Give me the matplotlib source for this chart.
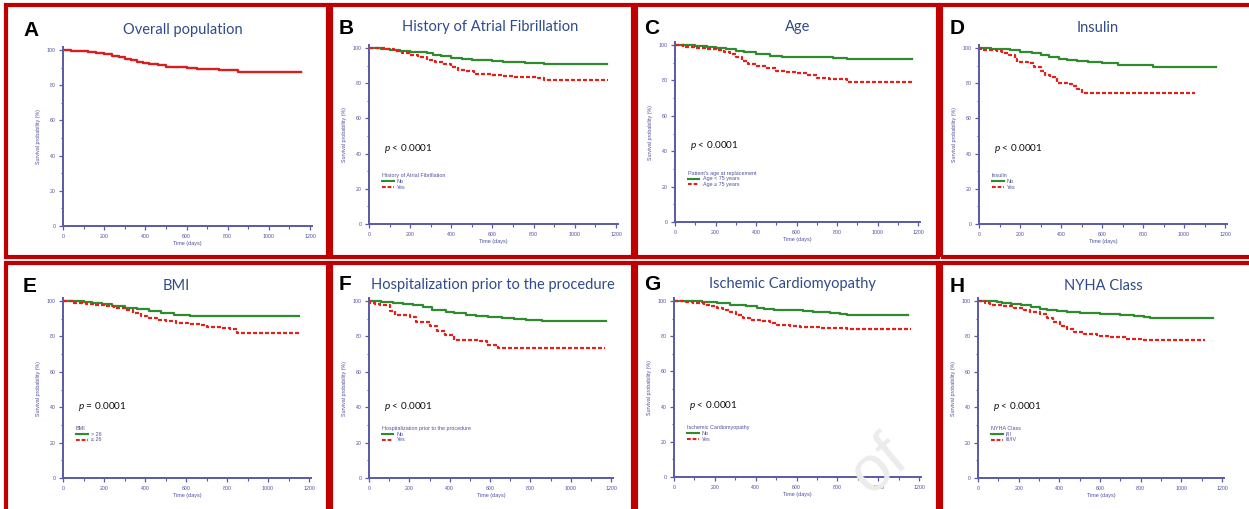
import matplotlib
matplotlib.use("Agg")
import matplotlib.pyplot as plt
from matplotlib.patches import Rectangle
from matplotlib.lines import Line2D

plt.rcParams['mathtext.fontset'] = 'custom'
plt.rcParams['mathtext.it'] = 'Lato:italic'
plt.rcParams['mathtext.rm'] = 'Lato'

# ---------------- data ----------------
A_t = [0, 40, 80, 120, 160, 200, 240, 270, 300, 330, 360, 390, 420, 460, 500, 550, 600, 650, 700, 760, 820, 850, 1155]
A_s = [100, 99.6, 99.2, 98.8, 98.2, 97.5, 96.7, 96, 95, 94.2, 93.3, 92.4, 91.8, 91.2, 90.5, 90.2, 89.8, 89.3, 89, 88.7, 88.4, 87.5, 87.5]

B_no_t = [0, 60, 100, 150, 200, 250, 280, 310, 350, 400, 450, 500, 550, 600, 650, 700, 760, 850, 1155]
B_no_s = [100, 99.5, 99, 98.3, 98, 97.6, 97, 96, 95.3, 94.3, 93.7, 93.3, 93, 92.6, 92.2, 91.9, 91.4, 90.7, 90.7]
B_yes_t = [0, 80, 120, 160, 200, 240, 280, 320, 360, 400, 430, 470, 510, 560, 600, 650, 700, 760, 820, 850, 1160]
B_yes_s = [100, 99.3, 98.5, 97.3, 96, 94.7, 93.3, 92, 90.8, 89.2, 87.5, 87, 85.5, 85.2, 84.8, 84.2, 83.8, 83.5, 83, 82, 82]

C_no_t = [0, 100, 160, 200, 250, 300, 340, 400, 470, 530, 600, 780, 850, 1170]
C_no_s = [100, 99.5, 99, 98.3, 97.5, 96.5, 96, 95, 94, 93.5, 93.2, 92.7, 92, 92]
C_yes_t = [0, 40, 100, 150, 200, 240, 270, 300, 330, 360, 400, 450, 500, 550, 600, 650, 700, 760, 850, 1175]
C_yes_s = [100, 99, 98.5, 97.8, 97, 96, 95, 93, 91, 89.5, 88, 86.8, 85.5, 85, 84, 83, 81.5, 81, 79.3, 79.3]

D_no_t = [0, 60, 110, 150, 200, 260, 300, 340, 390, 430, 480, 530, 600, 680, 750, 850, 1155]
D_no_s = [100, 99.6, 99.2, 98.8, 98, 97, 96, 95, 94, 93.2, 92.5, 92, 91.2, 90.6, 90.2, 89, 89]
D_yes_t = [0, 10, 90, 110, 145, 175, 185, 240, 270, 300, 320, 345, 380, 430, 455, 480, 500, 1055]
D_yes_s = [100, 98.8, 98.2, 97.2, 96.3, 94, 92.2, 91.3, 89.3, 87, 84.8, 83.7, 80.2, 79.6, 78.3, 76.5, 74.6, 74.6]

E_no_t = [0, 100, 140, 190, 240, 300, 360, 420, 480, 540, 620, 1153]
E_no_s = [100, 99.5, 99, 98.2, 97.3, 96.2, 95.2, 94.2, 93, 92.3, 91.6, 91.6]
E_yes_t = [0, 50, 110, 150, 200, 250, 300, 340, 380, 410, 460, 500, 550, 610, 670, 700, 770, 815, 850, 1156]
E_yes_s = [100, 99, 98.5, 98, 97, 96, 94.8, 93, 91.8, 90.5, 89.5, 88.5, 87.8, 87, 86.5, 85.5, 85, 84, 82, 82]

F_no_t = [0, 60, 120, 170, 220, 270, 310, 380, 420, 480, 530, 590, 660, 720, 780, 860, 1175]
F_no_s = [100, 99.5, 99, 98.5, 97.5, 96.5, 95, 94, 93, 92, 91.5, 91, 90.5, 90, 89.5, 88.5, 88.5]
F_yes_t = [0, 5, 30, 55, 105, 130, 205, 235, 300, 335, 375, 420, 550, 585, 640, 1171]
F_yes_s = [100, 99, 98.5, 97.5, 94.5, 92.3, 90.8, 87.9, 86, 83.2, 80.9, 78.1, 77.2, 75.3, 73.4, 73.4]

G_no_t = [0, 135, 160, 210, 275, 355, 405, 440, 490, 630, 680, 730, 765, 815, 845, 1148]
G_no_s = [100, 99.6, 99.3, 98.8, 98, 97, 96.2, 95.5, 95, 94.5, 94, 93.5, 93, 92.5, 91.8, 91.8]
G_yes_t = [0, 60, 95, 145, 175, 210, 240, 275, 305, 340, 370, 420, 470, 505, 570, 615, 715, 845, 1161]
G_yes_s = [100, 99.5, 99, 98, 97, 96, 95, 94, 92, 90.5, 89, 88.5, 87.5, 86.5, 86, 85, 84.5, 84, 84]

H_no_t = [0, 95, 120, 160, 210, 260, 305, 340, 390, 440, 500, 600, 700, 765, 815, 845, 1157]
H_no_s = [100, 99.5, 99, 98.3, 97.5, 96.7, 95.7, 95, 94.4, 93.8, 93.2, 92.5, 92, 91.5, 91, 90.3, 90.3]
H_yes_t = [0, 35, 60, 125, 175, 225, 255, 305, 340, 370, 405, 440, 470, 520, 585, 650, 730, 800, 1116]
H_yes_s = [100, 99, 98, 97, 96, 95, 94, 92.5, 90.5, 88, 86, 84, 82.5, 81.5, 80.5, 79.5, 78.5, 78, 78]

letters = ["A", "B", "C", "D", "E", "F", "G", "H"]
titles = ["Overall population", "History of Atrial Fibrillation", "Age", "Insulin",
          "BMI", "Hospitalization prior to the procedure", "Ischemic Cardiomyopathy", "NYHA Class"]
legend_titles = [None, "History of Atrial Fibrillation", "Patient's age at replacement", "Insulin",
                 "BMI", "Hospitalization prior to the procedure", "Ischemic Cardiomyopathy", "NYHA Class"]
group_labels = [None, ["No", "Yes"], ["Age < 75 years", "Age \u2265 75 years"], ["No", "Yes"],
                ["> 26", "\u2264 26"], ["No", "Yes"], ["No", "Yes"], ["I/II", "III/IV"]]
p_texts = [None, "< 0.0001", "< 0.0001", "< 0.0001", "= 0.0001", "< 0.0001", "< 0.0001", "< 0.0001"]
xticks = [0, 200, 400, 600, 800, 1000, 1200]
yticks = [0, 20, 40, 60, 80, 100]

series = [
    [(A_t, A_s)],
    [(B_no_t, B_no_s), (B_yes_t, B_yes_s)],
    [(C_no_t, C_no_s), (C_yes_t, C_yes_s)],
    [(D_no_t, D_no_s), (D_yes_t, D_yes_s)],
    [(E_no_t, E_no_s), (E_yes_t, E_yes_s)],
    [(F_no_t, F_no_s), (F_yes_t, F_yes_s)],
    [(G_no_t, G_no_s), (G_yes_t, G_yes_s)],
    [(H_no_t, H_no_s), (H_yes_t, H_yes_s)],
]

# ---------------- layout (pixels) ----------------
W, H = 1249, 509
DPI = 100
fig = plt.figure(figsize=(W / DPI, H / DPI), dpi=DPI)
fig.patch.set_facecolor("white")

# x-pixel of day 0, x-pixel of day 1200, y-pixel of 0 %, y-pixel of 100 %
axes_px = [
    (63, 310, 226, 50), (369, 616, 224, 48), (675, 918, 222, 45), (979, 1225, 224, 48),
    (63, 309, 478, 301), (369, 611, 478, 301), (674, 919, 477, 301), (978, 1222, 478, 301),
]
panel_px = [  # left, top, right, bottom
    (6, 5, 328, 257), (331, 5, 633, 257), (636, 5, 938, 257), (941, 5, 1253, 257),
    (6, 263, 328, 515), (331, 263, 633, 515), (636, 263, 938, 515), (941, 263, 1253, 515),
]
title_px = [(183, 30), (490, 27), (798, 27), (1098, 28), (176, 286), (493, 285), (792, 284), (1103, 286)]
letter_px = [(23, 30), (339, 28), (644, 28), (950, 29), (23, 286), (339, 285), (644, 284), (950, 286)]

XMAX, YMAX = 1212, 101.5
AXC = "#5A5AA6"
TXC = "#5050A0"
TITLE_C = "#2F4B8A"
RED = "#E3201B"
GREEN = "#2E8B2E"
BORDER = "#C00000"

# faint watermark fragment visible in the reference
fig.text(878 / W, 1 - 466 / H, "of", fontsize=46, color="#ECECEC",
         rotation=40, ha="center", va="center", rotation_mode="anchor",
         family="Liberation Sans", zorder=0)

for i in range(8):
    l, t, r, b = panel_px[i]
    fig.patches.append(Rectangle((l / W, 1 - b / H), (r - l) / W, (b - t) / H,
                                 transform=fig.transFigure, fill=False,
                                 edgecolor=BORDER, linewidth=3.0, zorder=5))
    x0, x1200, y0, y100 = axes_px[i]
    wpx = (x1200 - x0) * XMAX / 1200
    hpx = (y0 - y100) * YMAX / 100
    ax = fig.add_axes([x0 / W, 1 - y0 / H, wpx / W, hpx / H])
    ax.patch.set_alpha(0)
    ax.set_xlim(0, XMAX)
    ax.set_ylim(0, YMAX)
    for s in ["top", "right"]:
        ax.spines[s].set_visible(False)
    for s in ["left", "bottom"]:
        ax.spines[s].set_color(AXC)
        ax.spines[s].set_linewidth(1.4)
    ax.set_xticks(xticks)
    ax.set_yticks(yticks)
    ax.set_xticks(range(100, 1200, 200), minor=True)
    ax.set_yticks(range(10, 100, 20), minor=True)
    ax.tick_params(which="major", length=3, width=0.9, color=AXC, labelsize=3.8,
                   labelcolor=TXC, pad=2.5)
    ax.tick_params(which="minor", length=1.8, width=0.8, color=AXC)
    for lab in ax.get_xticklabels() + ax.get_yticklabels():
        lab.set_family("Liberation Sans")
    ax.set_xlabel("Time (days)", fontsize=4.0, color=TXC, labelpad=2, family="Liberation Sans")
    ax.set_ylabel("Survival probability (%)", fontsize=3.8, color=TXC, labelpad=4,
                  family="Liberation Sans")

    ser = series[i]
    if len(ser) == 1:
        ax.step(ser[0][0], ser[0][1], where="post", color="#D81E1E", lw=1.7)
    else:
        ax.step(ser[0][0], ser[0][1], where="post", color=GREEN, lw=1.6)
        ax.step(ser[1][0], ser[1][1], where="post", color=RED, lw=1.6,
                linestyle=(0, (1.8, 0.9)))
        ya = 43 if i < 4 else 40.5
        ax.text(72, ya, r"$\it{p}$ " + p_texts[i], fontsize=7.2, family="Lato",
                color="#111111", va="center", ha="left")
        yl = 29 if i < 4 else 29.5
        hl1 = Line2D([], [], color=GREEN, lw=1.5)
        hl2 = Line2D([], [], color=RED, lw=1.5, linestyle=(0, (1.8, 0.9)))
        leg = ax.legend([hl1, hl2], group_labels[i], title=legend_titles[i],
                        loc="upper left", bbox_to_anchor=(62, yl),
                        bbox_transform=ax.transData, frameon=False,
                        fontsize=3.9, title_fontsize=3.9, labelcolor=TXC,
                        handlelength=2.2, handletextpad=0.6, labelspacing=0.15,
                        borderpad=0, borderaxespad=0)
        leg.get_title().set_color(TXC)
        leg.get_title().set_family("Liberation Sans")
        for tx in leg.get_texts():
            tx.set_family("Liberation Sans")
        leg._legend_box.align = "left"

    tx, ty = title_px[i]
    fig.text(tx / W, 1 - ty / H, titles[i], fontsize=10.5, color=TITLE_C,
             family="Lato", ha="center", va="center")
    lx, ly = letter_px[i]
    fig.text(lx / W, 1 - ly / H, letters[i], fontsize=15, color="black",
             family="Liberation Sans", weight="bold", ha="left", va="center")

fig.savefig("out.png", dpi=DPI, facecolor="white")
